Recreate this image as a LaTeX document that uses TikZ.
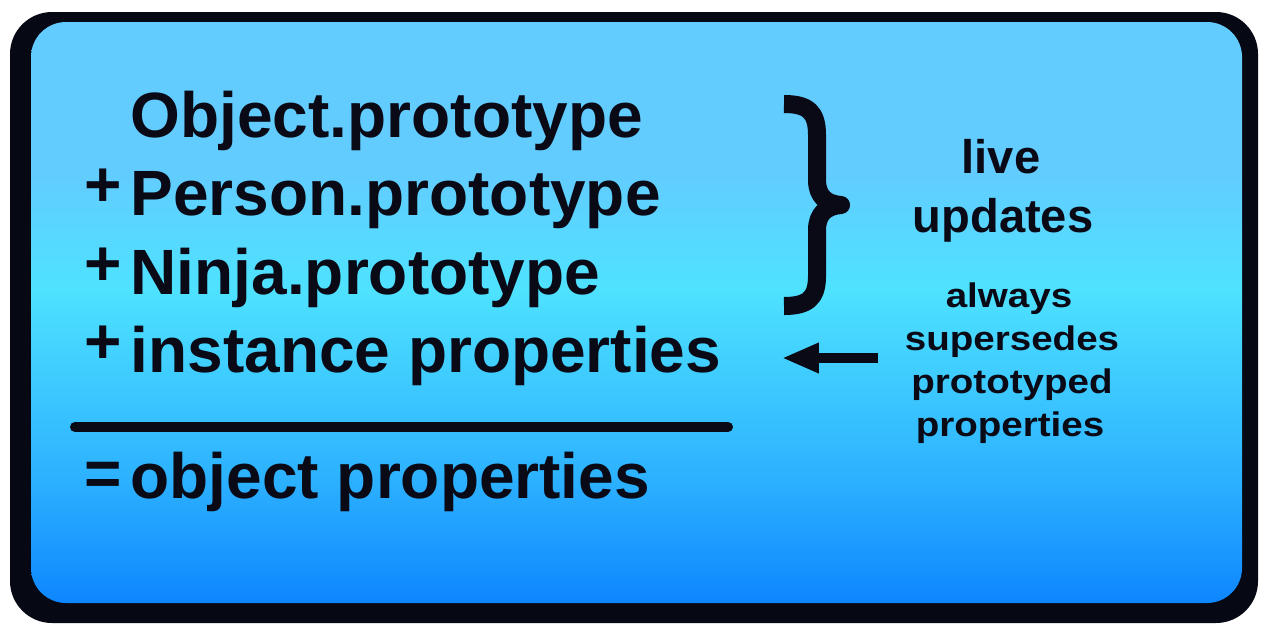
\documentclass[tikz,border=0pt]{standalone}
\usepackage{fontspec}
\setmainfont{Liberation Sans}
\newfontfamily\notefamily{Liberation Sans}[FakeStretch=1.13]
\usetikzlibrary{arrows.meta}

\definecolor{inkdark}{RGB}{10,10,22}
\definecolor{framedark}{RGB}{6,8,20}
\definecolor{paneltop}{RGB}{98,204,255}
\definecolor{panelmid}{RGB}{78,226,255}
\definecolor{panellow}{RGB}{45,178,255}
\definecolor{panelbot}{RGB}{14,134,255}

\pgfdeclareverticalshading{panelfade}{100bp}{color(0bp)=(panelbot); color(25bp)=(panelbot); color(36bp)=(panellow); color(52bp)=(panelmid); color(62bp)=(paneltop); color(100bp)=(paneltop)}

\newcommand{\sumfont}{\fontsize{18.2}{22}\selectfont\bfseries}
\newcommand{\sidefont}{\fontsize{13.4}{16}\selectfont\bfseries}
\newcommand{\notefont}{\notefamily\fontsize{9.7}{12}\selectfont\bfseries}

\tikzset{
  term/.style={anchor=base west, inner sep=0pt, text=inkdark, font=\sumfont},
  side/.style={anchor=base, inner sep=0pt, text=inkdark, font=\sidefont},
  note/.style={anchor=base, inner sep=0pt, text=inkdark, font=\notefont},
  rule/.style={line width=0.1cm, line cap=round, inkdark},
  bracestroke/.style={line width=0.18cm, line join=round, inkdark},
  pointer/.style={line width=0.1cm, inkdark, -{Triangle[length=0.37cm,width=0.28cm]}, shorten >=0.6cm},
}

\begin{document}
\begin{tikzpicture}[x=0.01cm, y=-0.01cm]
  \useasboundingbox (0,0) rectangle (1268,624);
  \fill[framedark, rounded corners=0.42cm] (10,12) rectangle (1258,623);
  \fill[shading=panelfade, rounded corners=0.35cm] (31,22) rectangle (1242,603);

  \node[term] (objproto) at (130,137) {Object.prototype};
  \node[term] (personproto) at (130,215) {Person.prototype};
  \node[term] (ninjaproto) at (130,294) {Ninja.prototype};
  \node[term] (inst) at (130,372) {instance properties};
  \node[term] (objprops) at (130,498) {object properties};
  \foreach \y/\n in {206/person,285/ninja,363/inst}
    \node[term] (plus\n) at (84,\y) {+};
  \node[term] (equals) at (84,495) {=};

  \draw[rule] (75,427) -- (728,427);

  \draw[bracestroke] (784,104) .. controls (808,104) and (817,112) .. (817,135) -- (817,180)
    .. controls (817,196) and (826,204) .. (841,205) .. controls (826,206) and (817,214) .. (817,230)
    -- (817,276) .. controls (817,298) and (808,306) .. (784,306);

  \node[side] (live) at (1001,173) {live};
  \node[side] (updates) at (1003,232) {updates};
  \node[note] (always) at (1009,307) {always};
  \node[note] (supersedes) at (1012,350) {supersedes};
  \node[note] (prototyped) at (1012,393) {prototyped};
  \node[note] (props) at (1010,436) {properties};

  \coordinate (tail) at (878,358);
  \draw[pointer] (tail) -- (inst.east |- tail);
\end{tikzpicture}
\end{document}
